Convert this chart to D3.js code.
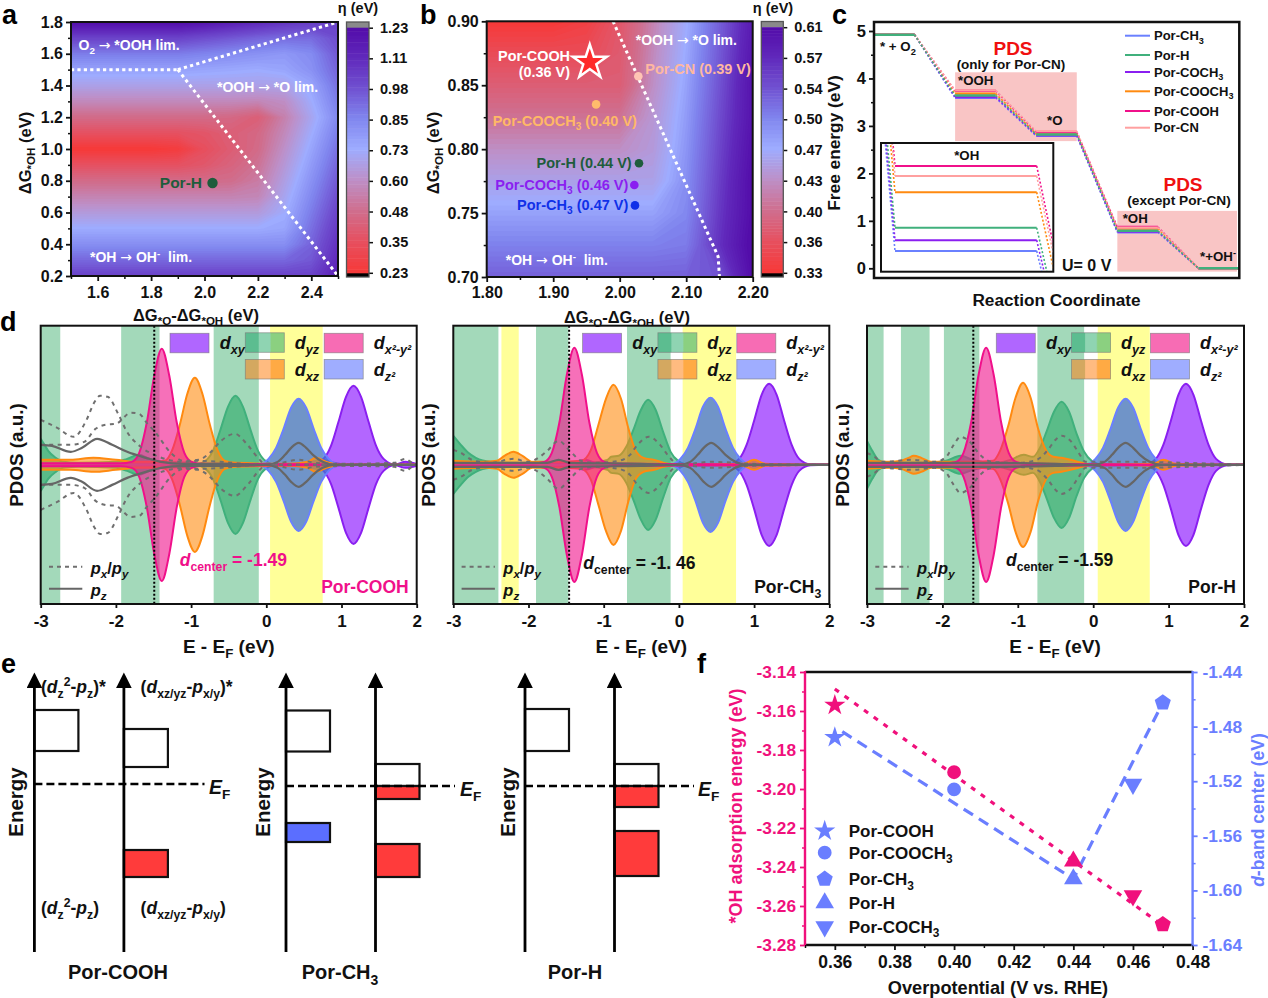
<!DOCTYPE html>
<html><head><meta charset="utf-8">
<script src="https://cdn.jsdelivr.net/npm/d3@7/dist/d3.min.js"></script>
<style>html,body{margin:0;padding:0;background:#fff}svg{display:block}text{white-space:pre}</style>
</head><body><svg id="c" width="1268" height="998" viewBox="0 0 1268 998"></svg>
<script>
// ---------- DATA ----------
const colorStops = ["#f63a3a","#e65060","#cf6f8f","#bd90c8","#9eacff","#8085ee","#7050d0","#6028bb","#520aa8"];
const aTicks = [0.23,0.35,0.48,0.60,0.73,0.85,0.98,1.11,1.23];
const bTicks = [0.33,0.36,0.40,0.43,0.47,0.50,0.54,0.57,0.61];
const aXs = [1.5,1.6,1.7,1.8,1.9,2.0,2.1,2.2,2.3,2.4,2.5];
const aYs = [1.8,1.7,1.6,1.5,1.4,1.3,1.2,1.1,1.0,0.9,0.8,0.7,0.6,0.5,0.4,0.3,0.2];
const etaA = [
[1.23,1.23,1.23,1.23,1.23,1.20,1.16,1.12,1.08,1.05,1.03],
[1.03,1.03,1.03,1.03,1.03,1.00,.97,.94,.92,.92,1.00],
[.88,.88,.88,.88,.88,.86,.84,.82,.80,.84,.97],
[.77,.77,.77,.77,.77,.76,.75,.74,.76,.82,.94],
[.68,.68,.68,.68,.68,.68,.68,.68,.68,.76,.91],
[.58,.58,.58,.58,.58,.58,.58,.57,.60,.73,.88],
[.47,.47,.47,.47,.47,.47,.46,.42,.55,.70,.85],
[.36,.36,.36,.36,.36,.38,.42,.46,.58,.73,.88],
[.23,.23,.23,.23,.25,.35,.41,.47,.61,.76,.91],
[.36,.36,.36,.36,.36,.39,.44,.50,.64,.79,.94],
[.47,.47,.47,.47,.47,.47,.48,.53,.67,.82,.97],
[.56,.56,.56,.56,.56,.56,.56,.57,.70,.85,1.00],
[.65,.65,.65,.65,.65,.65,.65,.65,.73,.88,1.03],
[.74,.74,.74,.74,.74,.74,.74,.74,.76,.91,1.06],
[.83,.83,.83,.83,.83,.83,.83,.83,.83,.94,1.09],
[.93,.93,.93,.93,.93,.93,.93,.93,.93,.97,1.12],
[1.03,1.03,1.03,1.03,1.03,1.03,1.03,1.03,1.03,1.03,1.15]];
const bXs = [1.8,1.85,1.9,1.95,2.0,2.05,2.1,2.15,2.2];
const bYs = [0.9,0.875,0.85,0.825,0.8,0.775,0.75,0.725,0.7];
const etaB = [
[.33,.33,.33,.34,.37,.42,.47,.53,.59],
[.355,.355,.355,.355,.375,.425,.475,.535,.595],
[.38,.38,.38,.38,.38,.43,.48,.54,.60],
[.405,.405,.405,.405,.405,.44,.485,.545,.60],
[.43,.43,.43,.43,.43,.445,.49,.55,.605],
[.455,.455,.455,.455,.455,.455,.495,.555,.61],
[.48,.48,.48,.48,.48,.48,.50,.56,.61],
[.505,.505,.505,.505,.505,.505,.51,.565,.615],
[.53,.53,.53,.53,.53,.53,.53,.54,.61]];
const aLines = [[[1.5,1.5],[1.9,1.5]],[[1.9,1.5],[2.5,1.8]],[[1.9,1.5],[2.5,0.2]]];
const bLine = [[1.99,0.9],[2.148,0.716],[2.15,0.70]];
const porHa = [2.03,0.786];
const bPoints = [
 {k:"Por-CN",x:2.028,y:0.857,c:"#ffc4b4"},
 {k:"Por-COOCH3",x:1.9645,y:0.835,c:"#ffbb6c"},
 {k:"Por-H",x:2.029,y:0.789,c:"#1e5c3c"},
 {k:"Por-COCH3",x:2.022,y:0.772,c:"#8a1ff0"},
 {k:"Por-CH3",x:2.023,y:0.756,c:"#1030e8"}];
const bStar = [1.955,0.868];

const plateauStart = [-1,1,3,5,7];
const feSeries = [
 {k:"Por-CH_{3}",c:"#6a80ff",e:[4.92,3.59,2.79,0.76,0]},
 {k:"Por-COCH_{3}",c:"#8a1ff0",e:[4.92,3.61,2.80,0.774,0]},
 {k:"Por-COOCH_{3}",c:"#ff8a10",e:[4.92,3.68,2.83,0.836,0]},
 {k:"Por-COOH",c:"#f0108a",e:[4.92,3.74,2.87,0.87,0]},
 {k:"Por-CN",c:"#ffa0a0",e:[4.92,3.75,2.89,0.857,0]},
 {k:"Por-H",c:"#40b07c",e:[4.92,3.64,2.82,0.79,0]}];
const feLegend = [["Por-CH_{3}","#6a80ff"],["Por-H","#40b07c"],["Por-COCH_{3}","#8a1ff0"],["Por-COOCH_{3}","#ff8a10"],["Por-COOH","#f0108a"],["Por-CN","#ffa0a0"]];
const pdsBoxes = [[1,4,4.13,2.68],[5,7.95,1.21,-0.07]];

const orbitalStyle = {
 green:{s:"#40b07c",f:"#2aa868",o:.6}, purple:{s:"#8a1ff0",f:"#9933ff",o:.75},
 blue:{s:"#6a80ff",f:"#4070d8",o:.75}, orange:{s:"#ff8a10",f:"#ff8c10",o:.6}, pink:{s:"#f0108a",f:"#f0108a",o:.6}};
const panels = [
{ name:"Por-COOH", nameC:"#f0108a", dc:-1.49, dcLabel:"~{d}_{center} = -1.49", dcC:"#f0108a", dcX:139, dcY:560,
  bands:[["g",-3,-2.74],["g",-1.93,-1.42],["g",-.70,-.10],["y",.05,.75]],
  green:[[-3,.26],[-2.95,.2],[-2.9,.14],[-2.8,.07],[-2.7,.03],[-2.5,.02],[-2,.03],[-1.85,.06],[-1.7,.1],[-1.55,.06],[-1.4,.03],[-1.0,.02],[-.96,.0],[-.81,.04],[-.71,.14],[-.61,.35],[-.51,.58],[-.41,.69],[-.31,.58],[-.21,.35],[-.11,.14],[-.01,.04],[.14,0],[.6,.03],[.75,.05],[.9,.02],[1.1,0],[2,0]],
  purple:[[-3,0],[.61,.005],[.76,.06],[.86,.19],[.96,.43],[1.06,.68],[1.16,.79],[1.26,.68],[1.36,.43],[1.46,.19],[1.56,.06],[1.71,.005],[1.85,.03],[2,.01]],
  blue:[[-3,0],[-.12,0],[.03,.06],[.13,.17],[.23,.36],[.33,.57],[.43,.66],[.53,.57],[.63,.36],[.73,.17],[.83,.06],[.98,0],[2,0]],
  orange:[[-3,.05],[-2.6,.05],[-2.3,.07],[-2,.05],[-1.7,.03],[-1.5,.03],[-1.35,.04],[-1.25,.15],[-1.15,.40],[-1.05,.71],[-.95,.87],[-.85,.71],[-.75,.40],[-.65,.15],[-.55,.04],[-.4,.02],[.3,.01],[.55,.03],[.66,.07],[.8,.03],[1,0],[2,0]],
  pink:[[-3,.015],[-2,.015],[-1.94,.015],[-1.79,.03],[-1.69,.12],[-1.59,.42],[-1.49,.89],[-1.39,1.16],[-1.29,.89],[-1.19,.42],[-1.09,.12],[-.99,.03],[-.84,.01],[2,0]],
  pz:[[-3,.2],[-2.85,.19],[-2.6,.13],[-2.45,.17],[-2.25,.26],[-2.05,.2],[-1.85,.13],[-1.6,.07],[-1.4,.03],[-1.1,.01],[-.5,.01],[0,0],[.15,.03],[.25,.1],[.33,.17],[.43,.22],[.53,.17],[.62,.1],[.75,.03],[.9,0],[2,0]],
  pxy:[
   [[-3,.45],[-2.78,.37],[-2.56,.28],[-2.39,.45],[-2.29,.62],[-2.21,.69],[-2.11,.68],[-1.97,.51],[-1.86,.34],[-1.67,.18],[-1.49,.10],[-1.3,.05],[-1.1,.03],[-.9,.04],[0,0],[2,0]],
   [[-3,.2],[-2.8,.2],[-2.6,.2],[-2.42,.23],[-2.27,.36],[-2.14,.40],[-2,.41],[-1.8,.52],[-1.69,.51],[-1.59,.42],[-1.47,.32],[-1.27,.12],[-1.1,.04],[-.9,.05],[-.75,.12],[-.6,.24],[-.42,.31],[-.25,.2],[-.1,.06],[0,0],[.2,.02],[.43,.05],[.65,.02],[1,.01],[1.7,.02],[1.85,.06],[1.95,.02],[2,.02]]]
},
{ name:"Por-CH_{3}", nameC:"#111", dc:-1.46, dcLabel:"~{d}_{center} = -1. 46", dcC:"#111", dcX:130, dcY:563,
  bands:[["g",-3,-2.4],["y",-2.36,-2.13],["g",-1.9,-1.47],["g",-.69,-.11],["y",.05,.76]],
  green:[[-3,.29],[-2.9,.2],[-2.8,.12],[-2.7,.07],[-2.5,.03],[-2.2,.02],[-1.8,.02],[-1.2,.02],[-.95,.05],[-.9,.08],[-.8,.09],[-.7,.18],[-.6,.36],[-.51,.54],[-.41,.65],[-.31,.55],[-.21,.33],[-.11,.13],[-.01,.04],[.14,0],[.85,0],[1,.04],[1.15,0],[2,0]],
  purple:[[-3,0],[-1.45,.01],[-1.25,.05],[-1.05,.01],[.65,.005],[.8,.06],[.9,.20],[1,.44],[1.1,.70],[1.2,.81],[1.3,.70],[1.4,.44],[1.5,.20],[1.6,.06],[1.75,.005],[2,0]],
  blue:[[-3,0],[-.13,0],[.02,.06],[.12,.17],[.22,.36],[.32,.58],[.42,.67],[.52,.58],[.62,.36],[.72,.17],[.82,.06],[.97,0],[2,0]],
  orange:[[-3,.04],[-2.6,.03],[-2.42,.04],[-2.32,.09],[-2.2,.13],[-2.08,.09],[-1.95,.03],[-1.6,.03],[-1.3,.04],[-1.17,.15],[-1.07,.40],[-.97,.66],[-.87,.80],[-.77,.66],[-.67,.36],[-.58,.15],[-.47,.07],[-.33,.05],[-.2,.02],[.0,0],[.85,.01],[1,.05],[1.15,.01],[2,0]],
  pink:[[-3,.015],[-2,.015],[-1.94,.015],[-1.79,.03],[-1.69,.12],[-1.59,.42],[-1.49,.90],[-1.39,1.17],[-1.29,.90],[-1.19,.42],[-1.09,.12],[-.99,.03],[-.84,.01],[2,0]],
  pz:[[-3,.02],[-1.75,.02],[-1.6,.05],[-1.45,.02],[-.5,.01],[0,0],[.15,.03],[.25,.1],[.33,.17],[.43,.22],[.53,.17],[.62,.1],[.75,.03],[.9,0],[2,0]],
  pxy:[[[-3,.15],[-2.9,.12],[-2.75,.05],[-2.5,.02],[-2.2,.06],[-2,.03],[-1.85,.08],[-1.75,.14],[-1.6,.24],[-1.45,.14],[-1.3,.04],[-1.1,.02],[-.8,.04],[-.65,.1],[-.55,.2],[-.4,.28],[-.25,.2],[-.15,.1],[0,0],[.43,.03],[1,.01],[2,0]]]
},
{ name:"Por-H", nameC:"#111", dc:-1.59, dcLabel:"~{d}_{center} = -1.59", dcC:"#111", dcX:139, dcY:560,
  bands:[["g",-3,-2.78],["g",-2.55,-2.17],["g",-1.98,-1.51],["g",-.74,-.12],["y",.06,.75]],
  green:[[-3,.24],[-2.93,.14],[-2.85,.05],[-2.75,.02],[-2.2,.02],[-1.95,.04],[-1.76,.09],[-1.6,.05],[-1.3,.02],[-1.1,.05],[-.92,.10],[-.8,.08],[-.7,.18],[-.62,.33],[-.52,.53],[-.42,.63],[-.32,.53],[-.22,.31],[-.12,.13],[-.02,.04],[.13,0],[.85,0],[.95,.04],[1.1,0],[2,0]],
  purple:[[-3,0],[-2.7,.02],[-2.5,.01],[.68,.005],[.83,.06],[.93,.20],[1.03,.44],[1.13,.70],[1.23,.81],[1.33,.70],[1.43,.44],[1.53,.20],[1.63,.06],[1.78,.005],[2,0]],
  blue:[[-3,0],[-.12,0],[.03,.06],[.13,.17],[.23,.36],[.33,.57],[.43,.66],[.53,.57],[.63,.36],[.73,.17],[.83,.06],[.98,0],[2,0]],
  orange:[[-3,.04],[-2.7,.03],[-2.55,.04],[-2.45,.07],[-2.38,.09],[-2.28,.07],[-2.15,.03],[-1.6,.03],[-1.33,.04],[-1.23,.15],[-1.13,.38],[-1.03,.67],[-.93,.82],[-.83,.67],[-.73,.36],[-.63,.15],[-.53,.08],[-.42,.07],[-.3,.05],[-.15,.02],[0,0],[.8,.01],[.93,.05],[1.1,.01],[2,0]],
  pink:[[-3,.015],[-2,.015],[-1.97,.015],[-1.82,.03],[-1.72,.12],[-1.62,.42],[-1.52,.90],[-1.42,1.17],[-1.32,.90],[-1.22,.42],[-1.12,.12],[-1.02,.03],[-.87,.01],[2,0]],
  pz:[[-3,.02],[-1.6,.02],[-.5,.01],[0,0],[.15,.03],[.25,.1],[.33,.17],[.43,.22],[.53,.17],[.62,.1],[.75,.03],[.9,0],[2,0]],
  pxy:[[[-3,.12],[-2.9,.08],[-2.8,.03],[-2.4,.05],[-2.1,.03],[-1.95,.08],[-1.85,.2],[-1.76,.28],[-1.65,.24],[-1.5,.1],[-1.35,.03],[-1,.02],[-.75,.05],[-.6,.15],[-.5,.25],[-.42,.29],[-.3,.24],[-.2,.13],[-.1,.03],[.43,.03],[2,0]]]
}];

const eDiagrams = [
 {name:"Por-COOH", ef:.01, bands:[[0,.75,.34,"#fff"],[1,.56,.18,"#fff"],[1,-.65,-.92,"#ff3b3b"]]},
 {name:"Por-CH_{3}", ef:-.01, bands:[[0,.745,.335,"#fff"],[0,-.38,-.57,"#5b6eff"],[1,.21,-.01,"#fff"],[1,-.01,-.14,"#ff3b3b"],[1,-.59,-.92,"#ff3b3b"]]},
 {name:"Por-H", ef:-.01, bands:[[0,.76,.34,"#fff"],[1,.21,-.01,"#fff"],[1,-.01,-.22,"#ff3b3b"],[1,-.46,-.91,"#ff3b3b"]]}];

const overpot = [0.36,0.40,0.44,0.46,0.47];
const adsE = [-3.157,-3.1914,-3.237,-3.2547,-3.2694];
const dBand = [-1.488,-1.526,-1.5916,-1.5222,-1.4625];
const fShapes = ["star","circle","up","down","pent"];
const pinkFit = [[0.36,-3.1487],[0.47,-3.27]];
const blueFit = [[0.3625,-1.4837],[0.44,-1.5916],[0.47,-1.4625]];
const fLegend = [["Por-COOH","star"],["Por-COOCH_{3}","circle"],["Por-CH_{3}","pent"],["Por-H","up"],["Por-COCH_{3}","down"]];

// ---------- HELPERS ----------
const FONT = "'Liberation Sans',Arial,sans-serif";
const svg = d3.select("#c").attr("font-family",FONT);
const defs = svg.append("defs");
function rich(t,s,fs){
  const re=/_\{([^}]*)\}|\^\{([^}]*)\}|~\{([^}]*)\}|(→)|([^_^~→]+)/g; let m,cur=0;
  while((m=re.exec(s))){
    let txt,tg=0,size=fs,it=false,arrow=false;
    if(m[1]!==undefined){txt=m[1];tg=.28*fs;size=.7*fs;}
    else if(m[2]!==undefined){txt=m[2];tg=-.38*fs;size=.7*fs;}
    else if(m[3]!==undefined){txt=m[3];it=true;}
    else if(m[4]!==undefined){txt=m[4];arrow=true;}
    else txt=m[5];
    if(txt[0]==="/"&&txt.length>1){txt=txt.slice(1);it=true;}
    const ts=t.append("tspan").attr("font-size",size).attr("dy",tg-cur).text(txt);
    if(it) ts.attr("font-style","italic");
    if(arrow) ts.attr("font-family","'DejaVu Sans'").attr("font-weight","normal");
    cur=tg;
  }
  return t;
}
function T(x,y,s,o={}){
  const size=o.size||16;
  const t=svg.append("text").attr("font-weight",o.weight||"bold").attr("fill",o.fill||"#111").attr("text-anchor",o.anchor||"start");
  if(o.rot!==undefined){t.attr("transform",`translate(${x},${y}) rotate(${o.rot})`).attr("x",0).attr("y",.35*size);}
  else t.attr("x",x).attr("y",y+.35*size);
  rich(t,s,size);
  return t;
}
function axis(kind,scale,at,major,minor,fmt,o={}){
  const g=svg.append("g").attr("transform",(kind==="b")?`translate(0,${at})`:`translate(${at},0)`);
  const mk=kind==="b"?d3.axisBottom:kind==="l"?d3.axisLeft:d3.axisRight;
  const c=o.color||"#111";
  if(minor){ const gm=g.append("g").call(mk(scale).tickValues(minor).tickSize(o.minorLen||3).tickFormat(""));
    gm.select(".domain").remove(); gm.selectAll("line").attr("stroke",c).attr("stroke-width",1.5); }
  const ga=g.append("g").call(mk(scale).tickValues(major).tickSize(o.len||5).tickPadding(o.pad||3).tickFormat(fmt));
  ga.select(".domain").remove();
  ga.selectAll("line").attr("stroke",c).attr("stroke-width",1.8);
  ga.selectAll("text").attr("fill",c).attr("font-family",FONT).attr("font-weight","bold").attr("font-size",o.size||16);
}
function frame(x,y,w,h,sw){ svg.append("rect").attr("x",x).attr("y",y).attr("width",w).attr("height",h).attr("fill","none").attr("stroke","#111").attr("stroke-width",sw||2); }
let clipId=0;
function clip(x,y,w,h){ const id="cp"+(clipId++); defs.append("clipPath").attr("id",id).append("rect").attr("x",x).attr("y",y).attr("width",w).attr("height",h); return `url(#${id})`; }

function heat(X,Y,xs,ys,vals,ticks){
  const col=d3.scaleLinear().domain(ticks).range(colorStops).clamp(true);
  const [x0,x1]=X.range(),[y1,y0]=Y.range();
  const g=svg.append("g").attr("clip-path",clip(x0,y0,x1-x0,y1-y0));
  const lo=ticks[0],hi=ticks[ticks.length-1],N=70,th=d3.range(N).map(i=>lo+(hi-lo)*i/N);
  g.append("rect").attr("x",x0).attr("y",y0).attr("width",x1-x0).attr("height",y1-y0).attr("fill",col(lo));
  const dx=xs[1]-xs[0],dy=ys[0]-ys[1];
  const path=d3.geoPath(d3.geoTransform({point(a,b){this.stream.point(X(xs[0]+(a-.5)*dx),Y(ys[0]-(b-.5)*dy));}}));
  const cs=d3.contours().size([xs.length,ys.length]).thresholds(th)(vals.flat());
  g.selectAll("path").data(cs).join("path").attr("d",path).attr("fill",d=>col(d.value));
}
function colorbar(x,w,top,bottom,ticks,labelX){
  const col=d3.scaleLinear().domain(ticks).range(colorStops);
  const pos=d3.quantize(d3.interpolateNumber(bottom-4.2,top+5.7),ticks.length);
  const Y=d3.scaleLinear().domain(ticks).range(pos);
  svg.append("rect").attr("x",x).attr("y",top).attr("width",w).attr("height",6).attr("fill","#8a8a8a");
  svg.append("rect").attr("x",x).attr("y",bottom-5).attr("width",w).attr("height",5).attr("fill","#000");
  const lo=ticks[0],hi=ticks[ticks.length-1],N=70,vs=d3.range(N).map(i=>lo+(hi-lo)*i/N);
  svg.append("g").selectAll("rect").data(vs).join("rect").attr("x",x).attr("width",w)
    .attr("y",v=>Y(v+(hi-lo)/N)).attr("height",v=>Y(v)-Y(v+(hi-lo)/N)+.5).attr("fill",v=>col(v));
  const g=svg.append("g").attr("transform",`translate(${x+w},0)`);
  const a=g.call(d3.axisRight(Y).tickValues(ticks).tickSize(4).tickPadding(labelX).tickFormat(d=>d.toFixed(2)));
  a.select(".domain").remove(); a.selectAll("line").attr("stroke","#111").attr("stroke-width",1.5);
  a.selectAll("text").attr("fill","#111").attr("font-family",FONT).attr("font-weight","bold").attr("font-size",14.5);
  svg.append("rect").attr("x",x).attr("y",top).attr("width",w).attr("height",bottom-top).attr("fill","none").attr("stroke","#555").attr("stroke-width",1.3);
}
const dotted=(pts,X,Y,c,sw,dash,parent)=> (parent||svg).append("path").attr("d",d3.line().x(d=>X(d[0])).y(d=>Y(d[1]))(pts)).attr("fill","none").attr("stroke",c).attr("stroke-width",sw).attr("stroke-dasharray",dash);

// ---------- PANEL A ----------
{
 const X=d3.scaleLinear().domain([1.5,2.5]).range([71,338]), Y=d3.scaleLinear().domain([0.2,1.8]).range([276,22]);
 heat(X,Y,aXs,aYs,etaA,aTicks);
 aLines.forEach(l=>dotted(l,X,Y,"#fff",3,"3.2 3.2"));
 frame(71,22,267,254);
 axis("b",X,276,[1.6,1.8,2.0,2.2,2.4],[1.5,1.7,1.9,2.1,2.3,2.5],d=>d.toFixed(1),{pad:6});
 axis("l",Y,71,[.2,.4,.6,.8,1,1.2,1.4,1.6,1.8],d3.range(3,18,2).map(v=>v/10),d=>d.toFixed(1));
 colorbar(346.5,22.5,22,277,aTicks,7);
 T(196,315,"ΔG_{*O}-ΔG_{*OH} (eV)",{anchor:"middle",size:16.5});
 T(25,153,"ΔG_{*OH} (eV)",{anchor:"middle",size:16.5,rot:-90});
 T(358,8,"η (eV)",{anchor:"middle",size:14.5});
 T(78.5,45,"O_{2} → *OOH lim.",{fill:"#fff",size:14});
 T(217,87,"*OOH → *O lim.",{fill:"#fff",size:14});
 T(90,257,"*OH → OH^{-}  lim.",{fill:"#fff",size:14});
 T(202,183,"Por-H",{fill:"#1e5c3c",anchor:"end",size:15.5});
 svg.append("circle").attr("cx",X(porHa[0])).attr("cy",Y(porHa[1])).attr("r",5.2).attr("fill","#1e5c3c");
}
// ---------- PANEL B ----------
{
 const X=d3.scaleLinear().domain([1.8,2.2]).range([486.7,752.7]), Y=d3.scaleLinear().domain([0.7,0.9]).range([277,21.3]);
 heat(X,Y,bXs,bYs,etaB,bTicks);
 dotted(bLine,X,Y,"#fff",3,"3.2 3.2");
 frame(486.7,21.3,266,255.7);
 axis("b",X,277,[1.8,1.9,2.0,2.1,2.2],[1.85,1.95,2.05,2.15],d=>d.toFixed(2),{pad:5});
 axis("l",Y,486.7,[.7,.75,.8,.85,.9],[.725,.775,.825,.875],d=>d.toFixed(2));
 colorbar(761.3,22,21.5,277,bTicks,7);
 T(627,317,"ΔG_{*O}-ΔG_{*OH} (eV)",{anchor:"middle",size:16.5});
 T(433,153,"ΔG_{*OH} (eV)",{anchor:"middle",size:16.5,rot:-90});
 T(773,8,"η (eV)",{anchor:"middle",size:14.5});
 T(635.7,40,"*OOH → *O lim.",{fill:"#fff",size:14});
 T(505.7,260,"*OH → OH^{-}  lim.",{fill:"#fff",size:14});
 svg.append("path").attr("transform",`translate(${X(bStar[0])},${Y(bStar[1])})`)
   .attr("d",d3.symbol().type(d3.symbolStar).size(360)()).attr("fill","#ff2a2a").attr("stroke","#fff").attr("stroke-width",2.5);
 T(570,55.7,"Por-COOH",{fill:"#fff",anchor:"end",size:14.4});
 T(570,71.7,"(0.36 V)",{fill:"#fff",anchor:"end",size:14.4});
 svg.append("g").selectAll("circle").data(bPoints).join("circle").attr("cx",d=>X(d.x)).attr("cy",d=>Y(d.y)).attr("r",4.3).attr("fill",d=>d.c);
 T(645.3,69,"Por-CN (0.39 V)",{fill:"#ffb8a0",size:14.5});
 T(492.7,120.7,"Por-COOCH_{3} (0.40 V)",{fill:"#ffb866",size:14.5});
 T(631.7,163,"Por-H (0.44 V)",{fill:"#1e5c3c",anchor:"end",size:14.5});
 T(628.3,185,"Por-COCH_{3} (0.46 V)",{fill:"#8a1ff0",anchor:"end",size:14.5});
 T(628.3,205,"Por-CH_{3} (0.47 V)",{fill:"#1030e8",anchor:"end",size:14.5});
}
// ---------- PANEL C ----------
{
 const X=d3.scaleLinear().domain([-1,8]).range([874,1239]), Y=d3.scaleLinear().domain([0,5]).range([268.3,31]);
 svg.append("g").selectAll("rect").data(pdsBoxes).join("rect").attr("x",d=>X(d[0])).attr("width",d=>X(d[1])-X(d[0]))
   .attr("y",d=>Y(d[2])).attr("height",d=>Y(d[3])-Y(d[2])).attr("fill","#f9c5c5");
 const drawLines=(X,Y,parent,sw)=>{
  feSeries.forEach(s=>{
   s.e.forEach((v,i)=>{
    const t=plateauStart[i];
    parent.append("line").attr("x1",X(t)).attr("x2",X(t+1)).attr("y1",Y(v)).attr("y2",Y(v)).attr("stroke",s.c).attr("stroke-width",sw);
    if(i<4) dotted([[t+1,v],[t+2,s.e[i+1]]],X,Y,s.c,1.6,"2 2",parent);
   });
  });
 };
 const main=svg.append("g").attr("clip-path",clip(874,22,365,256));
 drawLines(X,Y,main,2.4);
 svg.append("rect").attr("x",881).attr("y",143).attr("width",172.3).attr("height",128.7).attr("fill","#fff").attr("stroke","#111").attr("stroke-width",2);
 const X2=d3.scaleLinear().domain([5,6]).range([895,1036.7]), Y2=d3.scaleLinear().domain([.76,.87]).range([251,166]);
 const ins=svg.append("g").attr("clip-path",clip(882,144,170.3,126.7));
 drawLines(X2,Y2,ins,2);
 frame(874,22,365.3,256,2.5);
 axis("l",Y,874,[0,1,2,3,4,5],[.5,1.5,2.5,3.5,4.5],d=>String(d),{len:5,pad:3,size:16.5});
 T(834,143,"Free energy (eV)",{anchor:"middle",size:17.3,rot:-90});
 T(1056.5,299.5,"Reaction Coordinate",{anchor:"middle",size:17.2});
 T(880,46.5,"* + O_{2}",{size:13.3});
 T(1013,48,"PDS",{anchor:"middle",size:19,fill:"#f01010"});
 T(1011,64.5,"(only for Por-CN)",{anchor:"middle",size:13.5});
 T(958,80,"*OOH",{size:13.3}); T(1047,120.7,"*O",{size:13.3}); T(966.7,155.7,"*OH",{anchor:"middle",size:13.3});
 T(1183,184,"PDS",{anchor:"middle",size:19,fill:"#f01010"});
 T(1179,200.5,"(except Por-CN)",{anchor:"middle",size:13.7});
 T(1122.7,218,"*OH",{size:13.3}); T(1200,256.7,"*+OH^{-}",{size:13.3});
 T(1062,265,"U= 0 V",{size:16});
 const lgY=[35.7,55,72,91.3,111,127.7];
 feLegend.forEach((l,i)=>{
  svg.append("line").attr("x1",1125).attr("x2",1150).attr("y1",lgY[i]).attr("y2",lgY[i]).attr("stroke",l[1]).attr("stroke-width",2);
  T(1154,lgY[i],l[0],{size:13});
 });
}
// ---------- PANEL D ----------
const legendGrad=(id,stops)=>{ const g=defs.append("linearGradient").attr("id",id);
  stops.forEach(([o,c])=>g.append("stop").attr("offset",o).attr("stop-color",c)); return `url(#${id})`; };
const gGreen=legendGrad("lgG",[[0,"#5cbd90"],[.33,"#5cbd90"],[.36,"#8fd4b2"],[.63,"#8fd4b2"],[.67,"#8bd080"],[1,"#8bd080"]]);
const gOrange=legendGrad("lgO",[[0,"#d4a860"],[.33,"#d4a860"],[.36,"#ffbb80"],[.63,"#ffbb80"],[.67,"#ffaa44"],[1,"#ffaa44"]]);
[40.7,453.3,867].forEach((left,pi)=>{
 const p=panels[pi], w=pi===2?377:376, top=325.7,bot=604;
 const X=d3.scaleLinear().domain([-3,2]).range([left,left+w]);
 const Y=d3.scaleLinear().domain([-1.39,1.39]).range([bot,top]);
 const g=svg.append("g").attr("clip-path",clip(left,top,w,bot-top));
 g.selectAll("rect.b").data(p.bands).join("rect").attr("class","b").attr("x",d=>X(d[1])).attr("width",d=>X(d[2])-X(d[1])).attr("y",top).attr("height",bot-top)
  .attr("fill",d=>d[0]==="g"?"#a3d9ba":"#ffff99");
 const curve=d3.curveMonotoneX;
 ["green","purple","blue","orange","pink"].forEach(nm=>{
  const st=orbitalStyle[nm];
  [1,-1].forEach(sg=>{
   const a=d3.area().x(d=>X(d[0])).y0(Y(0)).y1(d=>Y(sg*d[1])).curve(curve);
   const l=d3.line().x(d=>X(d[0])).y(d=>Y(sg*d[1])).curve(curve);
   g.append("path").attr("d",a(p[nm])).attr("fill",st.f).attr("fill-opacity",st.o);
   g.append("path").attr("d",l(p[nm])).attr("fill","none").attr("stroke",st.s).attr("stroke-width",2);
  });
 });
 [1,-1].forEach(sg=>{
  const l=d3.line().x(d=>X(d[0])).y(d=>Y(sg*d[1])).curve(curve);
  p.pxy.forEach(c=>g.append("path").attr("d",l(c)).attr("fill","none").attr("stroke","#6f6f6f").attr("stroke-width",2).attr("stroke-dasharray","4 4.5"));
  g.append("path").attr("d",l(p.pz)).attr("fill","none").attr("stroke","#666").attr("stroke-width",2.2);
 });
 g.append("line").attr("x1",X(p.dc)).attr("x2",X(p.dc)).attr("y1",top).attr("y2",bot).attr("stroke","#000").attr("stroke-width",2).attr("stroke-dasharray","2 2");
 const sw=(dx,dy,fill)=>svg.append("rect").attr("x",left+dx).attr("y",dy).attr("width",39).attr("height",19.5).attr("fill",fill).attr("stroke","#777").attr("stroke-opacity",.7).attr("stroke-width",.8);
 sw(129.3,333.3,"#b066ff"); sw(204.6,332.8,gGreen); sw(283.5,333.3,"#f76cb4"); sw(204.6,359.5,gOrange); sw(283.5,359.5,"#9fadff");
 T(left+179,343,"~{d}_{/xy}",{size:18}); T(left+254,343,"~{d}_{/yz}",{size:18});
 T(left+333,343,"~{d}_{/x²-y²}",{size:18}); T(left+254,369.5,"~{d}_{/xz}",{size:18}); T(left+333,369.5,"~{d}_{/z²}",{size:18});
 svg.append("line").attr("x1",left+8.3).attr("x2",left+41.6).attr("y1",566.7).attr("y2",566.7).attr("stroke","#6f6f6f").attr("stroke-width",2).attr("stroke-dasharray","4 4");
 svg.append("line").attr("x1",left+8.3).attr("x2",left+41.6).attr("y1",588.7).attr("y2",588.7).attr("stroke","#666").attr("stroke-width",2);
 T(left+50,568,"~{p}_{/x}/~{p}_{/y}",{size:16.5});
 T(left+50,590,"~{p}_{/z}",{size:16.5});
 T(left+p.dcX,p.dcY,p.dcLabel,{size:17.5,fill:p.dcC});
 T(left+w-8,587,p.name,{size:17.5,fill:p.nameC,anchor:"end"});
 frame(left,top,w,bot-top,2);
 axis("b",X,bot,[-3,-2,-1,0,1,2],null,d=>String(d),{len:4,pad:7,size:17});
 T(left+188,646.5,"E - E_{F} (eV)",{anchor:"middle",size:19});
 T(left-24.5,455,"PDOS (a.u.)",{anchor:"middle",size:18.8,rot:-90});
});
// ---------- PANEL E ----------
{
 const Y=d3.scaleLinear().domain([-1,1]).range([885,685]);
 const CH=d3.scaleLinear().domain([0,1]).range([0,89.5]);
 const W=d3.scaleLinear().domain([0,1]).range([0,44]);
 const base=[34.4,286,525], efEnd=[204.5,455,694], efLab=[209,460,698], nameX=[118,340,575], eX=[15.6,263,507.6];
 defs.append("marker").attr("id","ah").attr("viewBox","0 0 10 10").attr("refX",0).attr("refY",5).attr("markerWidth",16).attr("markerHeight",15.6).attr("markerUnits","userSpaceOnUse").attr("orient","auto").append("path").attr("d","M0 0L10 5L0 10Z").attr("fill","#000");
 eDiagrams.forEach((d,i)=>{
  const x0=base[i], g=svg.append("g");
  d.bands.forEach(b=>{
    g.append("rect").attr("x",x0+CH(b[0])).attr("width",W(1)).attr("y",Y(b[1])).attr("height",Y(b[2])-Y(b[1])).attr("fill",b[3]).attr("stroke","#111").attr("stroke-width",2.2);
  });
  [0,1].forEach(c=>g.append("line").attr("x1",x0+CH(c)).attr("x2",x0+CH(c)).attr("y1",952).attr("y2",688).attr("stroke","#000").attr("stroke-width",2.8).attr("marker-end","url(#ah)"));
  g.append("line").attr("x1",x0).attr("x2",efEnd[i]).attr("y1",Y(d.ef)).attr("y2",Y(d.ef)).attr("stroke","#000").attr("stroke-width",2.6).attr("stroke-dasharray","8 4");
  T(efLab[i],Y(d.ef)+3,"~{E}_{F}",{size:19.5});
  T(nameX[i],972,d.name,{anchor:"middle",size:20});
  T(eX[i],802,"Energy",{anchor:"middle",size:20.5,rot:-90});
 });
 T(41,686.5,"(~{d}_{z}^{2}-~{p}_{z})*",{size:17.5});
 T(140.6,686.5,"(~{d}_{xz/yz}-~{p}_{x/y})*",{size:17.5});
 T(41,908,"(~{d}_{z}^{2}-~{p}_{z})",{size:17.5});
 T(140.6,908,"(~{d}_{xz/yz}-~{p}_{x/y})",{size:17.5});
}
// ---------- PANEL F ----------
{
 const X=d3.scaleLinear().domain([.35,.48]).range([805,1192.6]);
 const YL=d3.scaleLinear().domain([-3.28,-3.14]).range([945,672]);
 const YR=d3.scaleLinear().domain([-1.64,-1.44]).range([945,672]);
 const pink="#f0107c",blue="#6a7eff";
 const pent={draw(c,s){const r=Math.sqrt(s/2.38);for(let i=0;i<5;i++){const a=-Math.PI/2+i*2*Math.PI/5,px=r*Math.cos(a),py=r*Math.sin(a);i?c.lineTo(px,py):c.moveTo(px,py);}c.closePath();}};
 const mark=(sel,sh,x,y,col)=>{
  const type=sh==="star"?d3.symbolStar:sh==="circle"?d3.symbolCircle:sh==="pent"?pent:d3.symbolTriangle;
  const size=sh==="star"?140:sh==="circle"?150:sh==="pent"?170:150;
  sel.append("path").attr("transform",`translate(${x},${y})${sh==="down"?" rotate(180)":""}`).attr("d",d3.symbol().type(type).size(size)()).attr("fill",col);
 };
 dotted(pinkFit,X,YL,pink,3.2,"5 7");
 dotted(blueFit,X,YR,blue,3.2,"11 7");
 const g=svg.append("g");
 overpot.forEach((v,i)=>mark(g,fShapes[i],X(v),YR(dBand[i]),blue));
 overpot.forEach((v,i)=>mark(g,fShapes[i],X(v),YL(adsE[i]),pink));
 const ln=(x1,x2,y1,y2,c)=>svg.append("line").attr("x1",x1).attr("x2",x2).attr("y1",y1).attr("y2",y2).attr("stroke",c).attr("stroke-width",2.4);
 ln(805,1192.6,672,672,"#111"); ln(805,1192.6,945,945,"#111");
 ln(805,805,671,946,pink); ln(1192.6,1192.6,671,946,blue);
 axis("b",X,945,[.36,.38,.40,.42,.44,.46,.48],[.35,.37,.39,.41,.43,.45,.47],d=>d.toFixed(2),{len:5,pad:6,size:17.5});
 axis("l",YL,805,[-3.28,-3.26,-3.24,-3.22,-3.20,-3.18,-3.16,-3.14],[-3.27,-3.25,-3.23,-3.21,-3.19,-3.17,-3.15],d=>d.toFixed(2),{color:pink,len:5,pad:4,size:17.3});
 axis("r",YR,1192.6,[-1.64,-1.60,-1.56,-1.52,-1.48,-1.44],[-1.62,-1.58,-1.54,-1.50,-1.46],d=>d.toFixed(2),{color:blue,len:5,pad:5,size:17.3});
 T(736,806,"*OH adsorption energy (eV)",{anchor:"middle",size:18,fill:pink,rot:-90});
 T(1258,810,"~{d}-band center (eV)",{anchor:"middle",size:17.5,fill:blue,rot:-90});
 T(998,988,"Overpotential (V vs. RHE)",{anchor:"middle",size:18.2});
 const lg=[831,852.7,879,903,926.7];
 fLegend.forEach((l,i)=>{ mark(svg,l[1],824.7,lg[i],blue); T(848.7,lg[i],l[0],{size:17}); });
}
// ---------- PANEL LETTERS ----------
[["a",2,15],["b",420,15],["c",832,15],["d",0,322],["e",1,664],["f",697,664]].forEach(l=>T(l[1],l[2],l[0],{size:27,fill:"#000"}));
</script></body></html>
